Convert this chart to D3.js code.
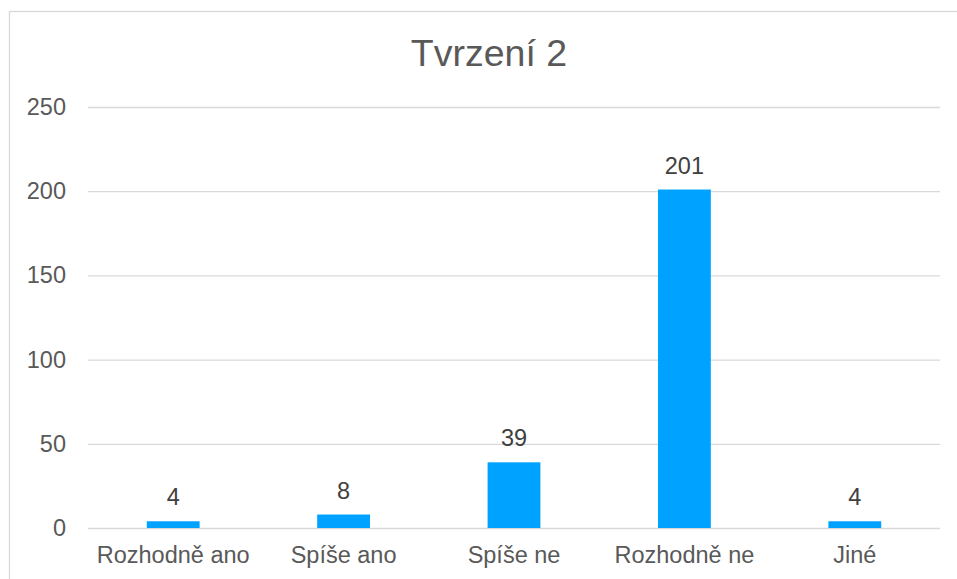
<!DOCTYPE html>
<html><head><meta charset="utf-8">
<script src="https://cdn.jsdelivr.net/npm/d3@7"></script>
<style>body{margin:0;background:#fff;}svg{display:block;font-family:"Liberation Sans",Arial,sans-serif;}</style>
</head><body>
<script>
const categories = ["Rozhodně ano","Spíše ano","Spíše ne","Rozhodně ne","Jiné"];
const values = [4, 8, 39, 201, 4];
const yTicks = [0, 50, 100, 150, 200, 250];
const title = "Tvrzení 2";

const W = 957, H = 579;
const FS = 23.5;
const svg = d3.select("body").append("svg").attr("width", W).attr("height", H);
svg.append("rect").attr("x", 9.5).attr("y", 11.5).attr("width", 990).attr("height", 600)
  .attr("fill", "#fff").attr("stroke", "#d9d9d9").attr("stroke-width", 1.3);

const m = {left: 88, right: 940, top: 107, bottom: 528};
const x = d3.scaleBand().domain(categories).range([m.left, m.right]).paddingInner(0.69).paddingOuter(0.345);
const y = d3.scaleLinear().domain([0, 250]).range([m.bottom, m.top]);

const yAxis = svg.append("g").attr("transform", `translate(${m.left},0)`)
  .call(d3.axisLeft(y).tickValues(yTicks).tickSize(-(m.right - m.left)).tickPadding(22));
yAxis.select(".domain").remove();
yAxis.selectAll("line").attr("stroke", "#d9d9d9").attr("stroke-width", 1.3);
yAxis.selectAll("text").attr("fill", "#595959").attr("font-size", FS).attr("font-family", "Liberation Sans, Arial, sans-serif");

svg.append("g").selectAll("rect").data(values).join("rect")
  .attr("x", (d, i) => x(categories[i]))
  .attr("width", x.bandwidth())
  .attr("y", d => y(d))
  .attr("height", d => y(0) - y(d))
  .attr("fill", "#00A2FF");

svg.append("g").selectAll("text").data(values).join("text")
  .attr("x", (d, i) => x(categories[i]) + x.bandwidth() / 2)
  .attr("y", d => y(d) - 16)
  .attr("text-anchor", "middle").attr("font-size", FS).attr("fill", "#404040")
  .text(d => d);

const xAxis = svg.append("g").attr("transform", `translate(0,${m.bottom})`)
  .call(d3.axisBottom(x).tickSize(0).tickPadding(18));
xAxis.select(".domain").remove();
xAxis.selectAll("text").attr("fill", "#595959").attr("font-size", FS).attr("font-family", "Liberation Sans, Arial, sans-serif");

svg.append("text").attr("x", 489).attr("y", 66).attr("text-anchor", "middle")
  .attr("font-size", 37.5).attr("fill", "#595959").text(title);
</script>
</body></html>
